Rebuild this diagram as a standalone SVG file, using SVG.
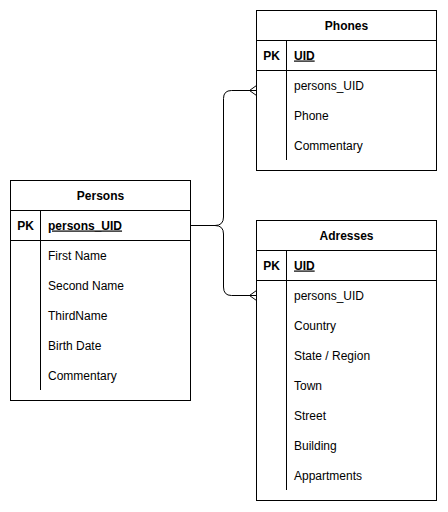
<svg xmlns="http://www.w3.org/2000/svg" width="448" height="512" viewBox="0 0 448 512">
<style>
.box{fill:#fff;stroke:#000;stroke-width:1}
.ln{stroke:#000;stroke-width:1;fill:none}
.t{font-family:"Liberation Sans",Arial,sans-serif;font-size:12px;fill:#000}
.h{font-weight:bold;text-anchor:middle}
.pk{font-weight:bold;text-anchor:middle}
.u{text-decoration:underline;font-weight:bold}
</style>
<rect width="448" height="512" fill="#fff"/>
<g id="connectors">
<path class="ln" d="M190.5 225.5 H215 Q223.5 225.5 223.5 217 V98.5 Q223.5 90.5 231.5 90.5 H256.5"/>
<path class="ln" d="M215 225.5 Q223.5 225.5 223.5 234 V287 Q223.5 295.5 231.5 295.5 H256.5"/>
<path class="ln" d="M256.5 85.5 L249.5 90.5 L256.5 95.5"/>
<path class="ln" d="M256.5 290.5 L249.5 295.5 L256.5 300.5"/>
</g>
<g id="persons">
<rect class="box" x="10.5" y="180.5" width="180" height="220"/>
<line class="ln" x1="10.5" y1="210.5" x2="190.5" y2="210.5"/>
<line class="ln" x1="10.5" y1="240.5" x2="190.5" y2="240.5"/>
<line class="ln" x1="40.5" y1="210.5" x2="40.5" y2="390"/>
<text class="t h" x="100.5" y="199.5">Persons</text>
<text class="t pk" x="25.5" y="229.5">PK</text>
<text class="t u" x="48" y="229.5">persons_UID</text>
<text class="t" x="48" y="259.5">First Name</text>
<text class="t" x="48" y="289.5">Second Name</text>
<text class="t" x="48" y="319.5">ThirdName</text>
<text class="t" x="48" y="349.5">Birth Date</text>
<text class="t" x="48" y="379.5">Commentary</text>
</g>
<g id="phones">
<rect class="box" x="256.5" y="10.5" width="180" height="160"/>
<line class="ln" x1="256.5" y1="40.5" x2="436.5" y2="40.5"/>
<line class="ln" x1="256.5" y1="70.5" x2="436.5" y2="70.5"/>
<line class="ln" x1="286.5" y1="40.5" x2="286.5" y2="160"/>
<text class="t h" x="346.5" y="29.5">Phones</text>
<text class="t pk" x="271.5" y="59.5">PK</text>
<text class="t u" x="294" y="59.5">UID</text>
<text class="t" x="294" y="89.5">persons_UID</text>
<text class="t" x="294" y="119.5">Phone</text>
<text class="t" x="294" y="149.5">Commentary</text>
</g>
<g id="adresses">
<rect class="box" x="256.5" y="220.5" width="180" height="280"/>
<line class="ln" x1="256.5" y1="250.5" x2="436.5" y2="250.5"/>
<line class="ln" x1="256.5" y1="280.5" x2="436.5" y2="280.5"/>
<line class="ln" x1="286.5" y1="250.5" x2="286.5" y2="490"/>
<text class="t h" x="346.5" y="239.5">Adresses</text>
<text class="t pk" x="271.5" y="269.5">PK</text>
<text class="t u" x="294" y="269.5">UID</text>
<text class="t" x="294" y="299.5">persons_UID</text>
<text class="t" x="294" y="329.5">Country</text>
<text class="t" x="294" y="359.5">State / Region</text>
<text class="t" x="294" y="389.5">Town</text>
<text class="t" x="294" y="419.5">Street</text>
<text class="t" x="294" y="449.5">Building</text>
<text class="t" x="294" y="479.5">Appartments</text>
</g>
</svg>
